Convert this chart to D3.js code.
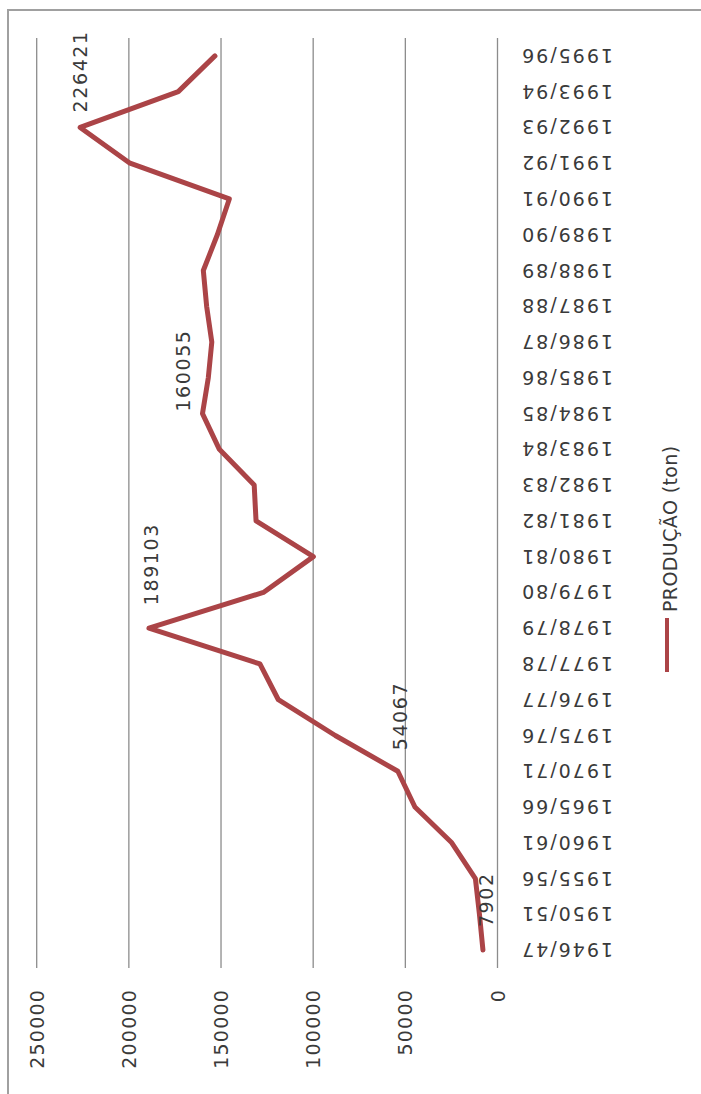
<!DOCTYPE html>
<html>
<head>
<meta charset="utf-8">
<script src="https://cdn.jsdelivr.net/npm/d3@7"></script>
<style>
  html, body { margin: 0; padding: 0; background: #fff; }
  svg { display: block; }
  text { font-family: "DejaVu Sans", sans-serif; fill: #3a3a3a; }
</style>
</head>
<body>
<script>
// ---- data ----
const categories = ["1946/47","1950/51","1955/56","1960/61","1965/66","1970/71","1975/76","1976/77","1977/78","1978/79","1979/80","1980/81","1981/82","1982/83","1983/84","1984/85","1985/86","1986/87","1987/88","1988/89","1989/90","1990/91","1991/92","1992/93","1993/94","1995/96"];
const production = [7902, 9800, 12000, 24800, 44800, 54067, 88000, 118900, 128900, 189103, 127000, 99900, 131000, 132000, 150900, 160055, 156900, 155000, 157800, 159600, 152000, 145500, 199400, 226421, 173200, 153300];
const valueTicks = [0, 50000, 100000, 150000, 200000, 250000];
const labeledCategories = ["1946/47", "1970/71", "1978/79", "1984/85", "1992/93"];
const seriesName = "PRODUÇÃO (ton)";

// ---- drawing ----
const W = 701, H = 1094;
const color = "#ab4447";
const gridColor = "#8c8c8c";

const svg = d3.select("body").append("svg").attr("width", W).attr("height", H);

// outer frame (top and left edges visible)
svg.append("path")
  .attr("d", `M8,${H + 5} L8,10 L${W + 5},10`)
  .attr("fill", "none").attr("stroke", "#a0a0a0").attr("stroke-width", 2);

const plotTop = 38, plotBottom = 968;
const x = d3.scaleLinear().domain([0, 250000]).range([497.5, 36.7]);
const y = d3.scaleBand().domain(categories).range([plotBottom, plotTop]).padding(0);
const bw = y.bandwidth();
const yc = c => y(c) + bw / 2;

// gridlines
svg.append("g").selectAll("line").data(valueTicks).join("line")
  .attr("x1", d => x(d)).attr("x2", d => x(d))
  .attr("y1", plotTop).attr("y2", plotBottom)
  .attr("stroke", gridColor).attr("stroke-width", 1.3);

// value axis labels (rotated -90)
svg.append("g").selectAll("text").data(valueTicks).join("text")
  .attr("transform", d => `translate(${x(d)},989) rotate(-90)`)
  .attr("text-anchor", "end")
  .attr("dominant-baseline", "central")
  .style("font-size", "19px")
  .style("letter-spacing", "1.2px")
  .text(d => d);

// category labels (rotated 180)
svg.append("g").selectAll("text").data(categories).join("text")
  .attr("transform", d => `translate(613,${yc(d)}) rotate(180)`)
  .attr("text-anchor", "start")
  .attr("dominant-baseline", "central")
  .style("font-size", "19px")
  .style("letter-spacing", "2px")
  .text(d => d);

// series line
const pts = categories.map((c, i) => ({ c, v: production[i] }));
svg.append("path")
  .datum(pts)
  .attr("fill", "none")
  .attr("stroke", color)
  .attr("stroke-width", 5)
  .attr("stroke-linejoin", "round")
  .attr("stroke-linecap", "round")
  .attr("d", d3.line().x(d => x(d.v)).y(d => yc(d.c)));

// data labels
const labelOffsets = { "1946/47": [3, 23], "1970/71": [2, 21], "1978/79": [2, 23], "1984/85": [-19, 2], "1992/93": [0, 15] };
svg.append("g").selectAll("text")
  .data(pts.filter(p => labeledCategories.includes(p.c)))
  .join("text")
  .attr("transform", d => {
    const o = labelOffsets[d.c];
    return `translate(${x(d.v) + o[0]},${yc(d.c) - o[1]}) rotate(-90)`;
  })
  .attr("text-anchor", "start")
  .attr("dominant-baseline", "central")
  .style("font-size", "19px")
  .style("letter-spacing", "1.6px")
  .text(d => d.v);

// legend
const lg = svg.append("g");
lg.append("line")
  .attr("x1", 667).attr("x2", 667).attr("y1", 618).attr("y2", 672)
  .attr("stroke", color).attr("stroke-width", 4);
lg.append("text")
  .attr("transform", "translate(670,612) rotate(-90)")
  .attr("text-anchor", "start")
  .attr("dominant-baseline", "central")
  .style("font-size", "19px")
  .style("letter-spacing", "0.4px")
  .text(seriesName);
</script>
</body>
</html>
